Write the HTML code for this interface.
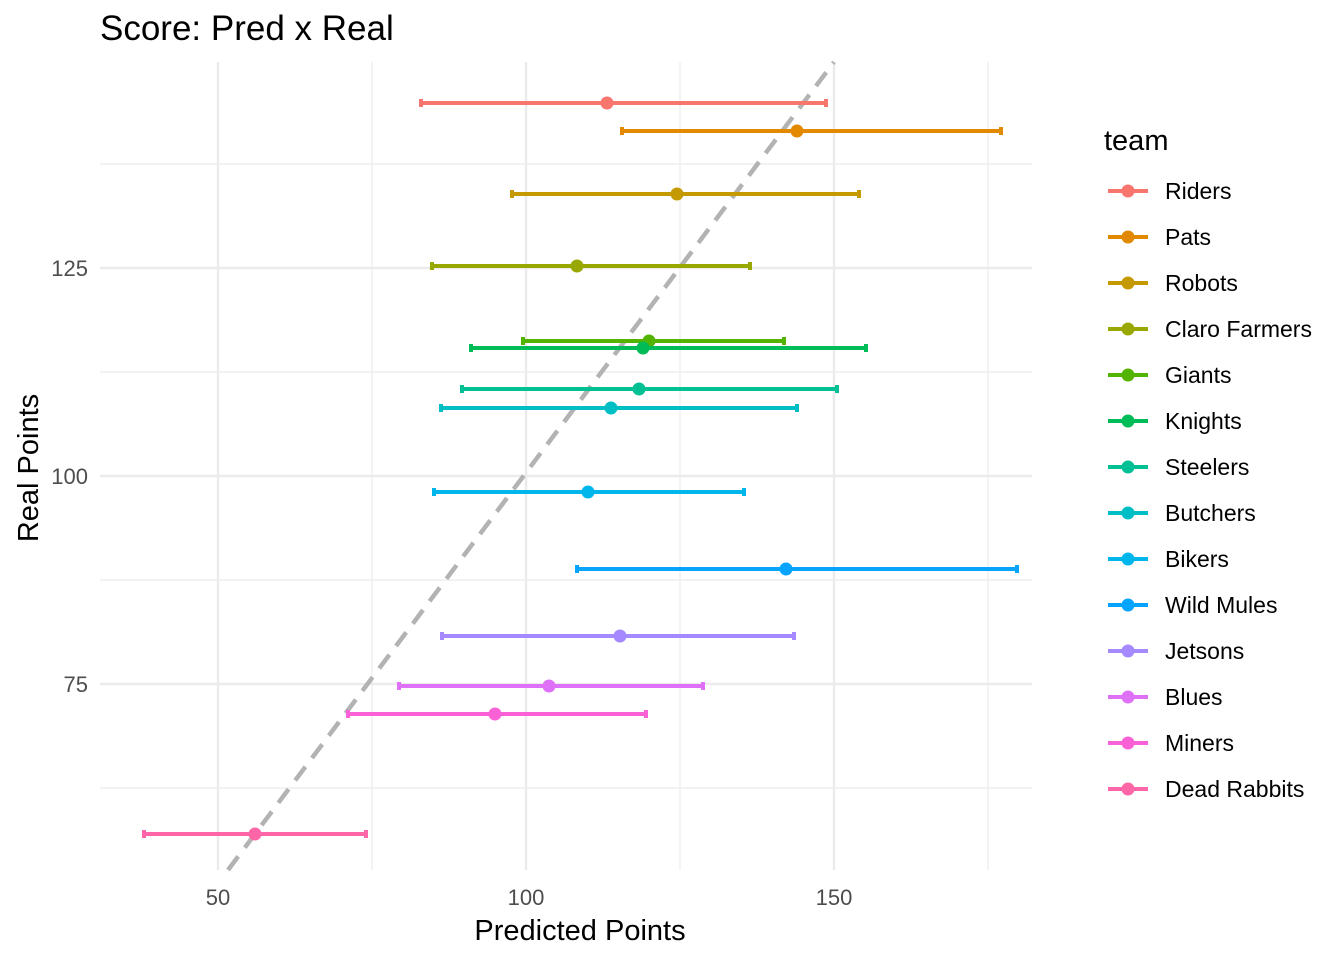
<!DOCTYPE html>
<html><head><meta charset="utf-8"><style>
html,body{margin:0;padding:0;background:#fff}
svg text{font-family:"Liberation Sans",Arial,sans-serif}
</style></head><body>
<svg width="1344" height="960" xmlns="http://www.w3.org/2000/svg">
<rect width="1344" height="960" fill="#fff"/>
<text x="100" y="40" font-size="35" fill="#000">Score: Pred x Real</text>
<g stroke="#ebebeb" stroke-width="1.2">
<line x1="372" y1="62" x2="372" y2="870"/><line x1="680" y1="62" x2="680" y2="870"/><line x1="988" y1="62" x2="988" y2="870"/>
<line x1="100" y1="164" x2="1032" y2="164"/><line x1="100" y1="372" x2="1032" y2="372"/><line x1="100" y1="580" x2="1032" y2="580"/><line x1="100" y1="788" x2="1032" y2="788"/>
</g>
<g stroke="#ebebeb" stroke-width="2.4">
<line x1="218" y1="62" x2="218" y2="870"/><line x1="526" y1="62" x2="526" y2="870"/><line x1="834" y1="62" x2="834" y2="870"/>
<line x1="100" y1="268" x2="1032" y2="268"/><line x1="100" y1="476" x2="1032" y2="476"/><line x1="100" y1="684" x2="1032" y2="684"/>
</g>
<line x1="228" y1="870" x2="834" y2="62" stroke="#b3b3b3" stroke-width="4.5" stroke-dasharray="17,11"/>
<g id="bars" stroke-width="4">
</g>
<g font-size="22" fill="#4d4d4d">
<text x="218" y="905" text-anchor="middle">50</text>
<text x="526" y="905" text-anchor="middle">100</text>
<text x="834" y="905" text-anchor="middle">150</text>
<text x="88" y="276" text-anchor="end">125</text>
<text x="88" y="484" text-anchor="end">100</text>
<text x="88" y="692" text-anchor="end">75</text>
</g>
<text x="580" y="940" font-size="29" text-anchor="middle">Predicted Points</text>
<text transform="translate(38,468) rotate(-90)" font-size="29" text-anchor="middle">Real Points</text>
<text x="1104" y="150" font-size="29">team</text>
<g id="legend" font-size="23"></g>
<script>
var d=[["Riders",103,421,826,607,"#F8766D"],["Pats",131,622,1001,797,"#E38900"],["Robots",194,512,859,677,"#C49A00"],["Claro Farmers",266,432,750,577,"#99A800"],["Giants",341,523,784,649,"#53B400"],["Knights",348,471,866,643,"#00BC56"],["Steelers",389,462,837,639,"#00C094"],["Butchers",408,441,797,611,"#00BFC4"],["Bikers",492,434,744,588,"#00B6EB"],["Wild Mules",569,577,1017,786,"#06A4FF"],["Jetsons",636,442,794,620,"#A58AFF"],["Blues",686,399,703,549,"#DF70F8"],["Miners",714,348,646,495,"#FB61D7"],["Dead Rabbits",834,144,366,255,"#FF66A8"]];
var ns="http://www.w3.org/2000/svg",b=document.getElementById("bars"),l=document.getElementById("legend");
function el(p,t,a){var e=document.createElementNS(ns,t);for(var k in a)e.setAttribute(k,a[k]);p.appendChild(e);return e;}
d.forEach(function(r,i){
el(b,"line",{x1:r[2],x2:r[3],y1:r[1],y2:r[1],stroke:r[5]});
el(b,"line",{x1:r[2],x2:r[2],y1:r[1]-4,y2:r[1]+4,stroke:r[5],"stroke-width":4});
el(b,"line",{x1:r[3],x2:r[3],y1:r[1]-4,y2:r[1]+4,stroke:r[5],"stroke-width":4});
el(b,"circle",{cx:r[4],cy:r[1],r:6.5,fill:r[5],stroke:"none"});
var y=191+46*i;
el(l,"line",{x1:1108,x2:1148,y1:y,y2:y,stroke:r[5],"stroke-width":4});
el(l,"circle",{cx:1128,cy:y,r:6.5,fill:r[5]});
var t=el(l,"text",{x:1165,y:y+8,fill:"#000"});t.textContent=r[0];
});
</script>
</svg>
</body></html>
